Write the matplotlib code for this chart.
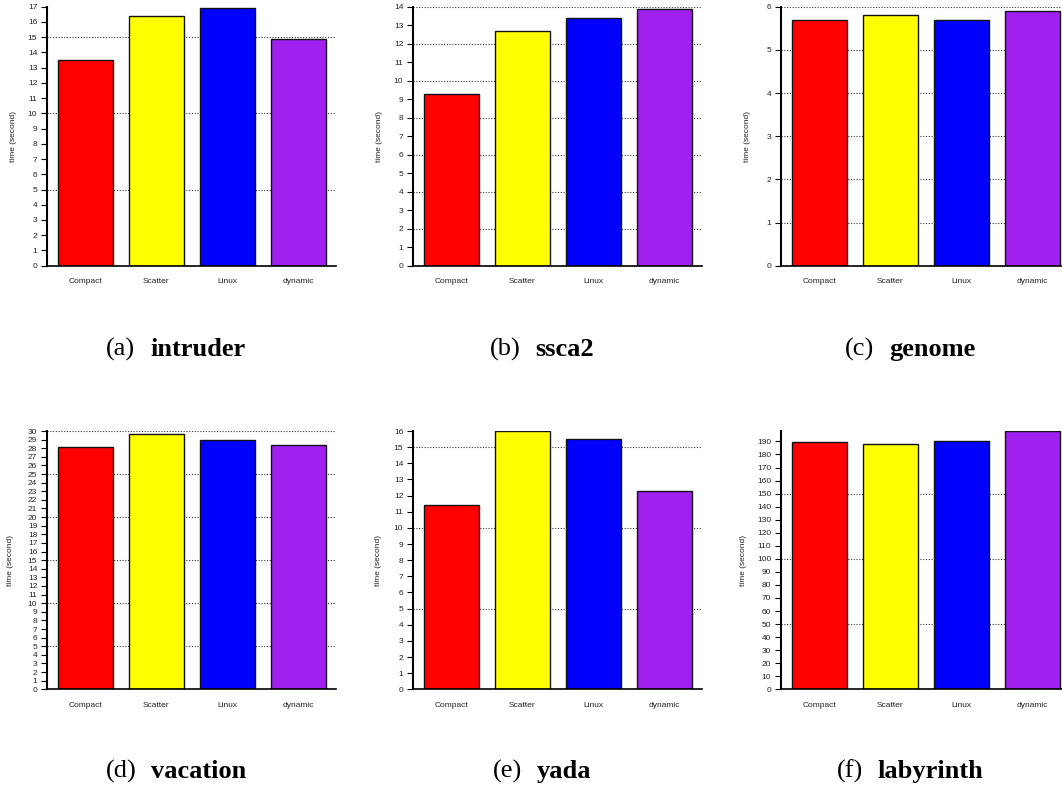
import math
import matplotlib
matplotlib.use("Agg")
import matplotlib.pyplot as plt
from matplotlib.ticker import MultipleLocator

categories = ["Compact", "Scatter", "Linux", "dynamic"]
bar_colors = ["#ff0000", "#ffff00", "#0000ff", "#a020f0"]

intruder = [13.5, 16.4, 16.9, 14.9]
ssca2 = [9.3, 12.7, 13.4, 13.9]
genome = [5.7, 5.8, 5.7, 5.9]
vacation = [28.1, 29.7, 28.9, 28.4]
yada = [11.4, 16.0, 15.5, 12.3]
labyrinth = [189.7, 188.0, 190.0, 197.7]

panel_letters = ["(a)", "(b)", "(c)", "(d)", "(e)", "(f)"]
panel_names = ["intruder", "ssca2", "genome", "vacation", "yada", "labyrinth"]
panel_data = [intruder, ssca2, genome, vacation, yada, labyrinth]
tick_steps = [1, 1, 1, 1, 1, 10]
grid_steps = [5, 2, 1, 5, 5, 50]

W, H = 1062, 788
fig = plt.figure(figsize=(W / 100, H / 100), dpi=100)
plt.rcParams['font.family'] = ['Liberation Sans', 'DejaVu Sans']

col_left = [47, 413, 781]
col_width = 289
row_top = [6.7, 431]
row_bottom = [265.7, 689.3]
caption_center = [176, 542, 910]
caption_base = [356, 778]
ylabel_off = [30, 30, 30, 33, 31, 34]

caps = []
for i, vals in enumerate(panel_data):
    r, c = divmod(i, 3)
    left = col_left[c] / W
    bottom = 1 - row_bottom[r] / H
    height = (row_bottom[r] - row_top[r]) / H
    ax = fig.add_axes([left, bottom, col_width / W, height])
    x = list(range(len(categories)))
    ymax = math.ceil(max(vals))
    ax.set_ylim(0, ymax)
    ax.set_xlim(-0.54, 3.53)
    g = grid_steps[i]
    yv = g
    while yv <= ymax + 1e-9:
        ax.axhline(yv, color="#333333", lw=0.8, ls=(0, (1, 1.5)), zorder=1)
        yv += g
    ax.bar(x, vals, width=0.77, color=bar_colors, edgecolor="#111111",
           linewidth=1.0, zorder=2)
    ax.yaxis.set_major_locator(MultipleLocator(tick_steps[i]))
    ax.set_xticks(x)
    ax.set_xticklabels(categories, fontsize=6, color="#222222")
    ax.tick_params(axis="x", length=0, pad=9)
    ax.tick_params(axis="y", length=4, width=0.8, pad=3, labelsize=6,
                   labelcolor="#222222", direction="out")
    for s in ["top", "right"]:
        ax.spines[s].set_visible(False)
    ax.spines["left"].set_linewidth(1.5)
    ax.spines["bottom"].set_linewidth(1.2)
    ax.set_ylabel("time (second)", fontsize=6, color="#222222")
    ax.yaxis.set_label_coords(-ylabel_off[i] / col_width, 0.5)

    yb = 1 - caption_base[r] / H
    t1 = fig.text(0, yb, panel_letters[i], ha="left", va="baseline",
                  family="Liberation Serif", fontsize=19)
    t2 = fig.text(0, yb, panel_names[i], ha="left", va="baseline",
                  family="Liberation Serif", fontsize=19, fontweight="bold")
    caps.append((c, t1, t2))

fig.canvas.draw()
rend = fig.canvas.get_renderer()
gap = 15
for c, t1, t2 in caps:
    w1 = t1.get_window_extent(rend).width
    w2 = t2.get_window_extent(rend).width
    total = w1 + gap + w2
    x0 = caption_center[c] - total / 2
    t1.set_x(x0 / W)
    t2.set_x((x0 + w1 + gap) / W)

fig.savefig("out.png", dpi=100)
